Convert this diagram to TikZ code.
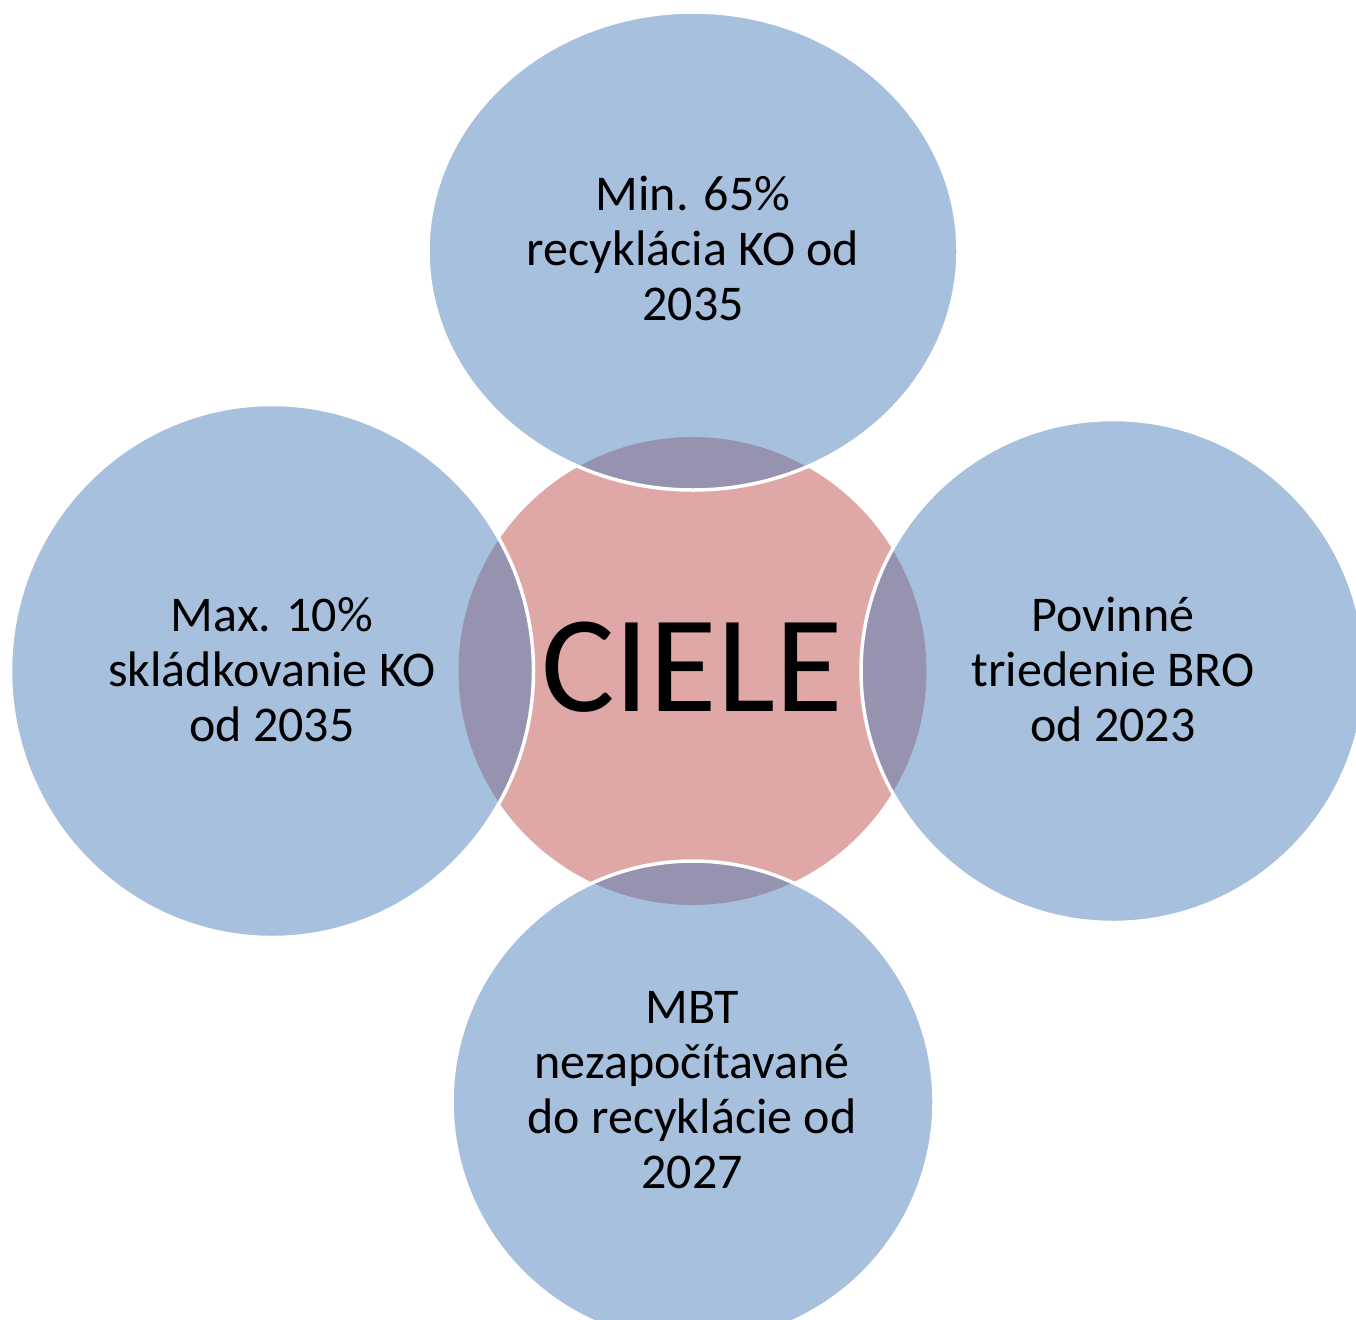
\documentclass[tikz,border=0pt]{standalone}
\usepackage{fontspec}
\setmainfont{Carlito}
\usetikzlibrary{shapes.geometric}
\definecolor{accblue}{HTML}{4F81BD}
\definecolor{accred}{HTML}{C0504D}
\tikzset{
  outer/.style={ellipse, inner sep=0pt, fill=accblue, fill opacity=0.5, draw=white, draw opacity=1, line width=3.5pt},
  inner/.style={circle, inner sep=0pt, fill=accred, fill opacity=0.5},
  lbl/.style={align=center, font=\fontsize{50}{55}\selectfont, text=black, anchor=base, inner sep=0pt},
  big/.style={font=\fontsize{138}{150}\selectfont, text=black, anchor=base, inner sep=0pt}
}
\begin{document}
\begin{tikzpicture}[x=1pt,y=-1pt]
\useasboundingbox (0,0) rectangle (1356,1319);
\node[inner, minimum size=468pt] (ciele) at (692.5,671) {};
\node[outer, minimum width=530pt, minimum height=478pt] (top) at (693,251) {};
\node[outer, minimum width=523pt, minimum height=533pt] (left) at (272,671) {};
\node[outer, minimum width=504pt, minimum height=503pt] (right) at (1113,671) {};
\node[outer, minimum width=482pt, minimum height=482pt] (bottom) at (693,1102) {};
\node[big] (tciele) at (692,711) {CIELE};
\node[lbl] (ttop) at (693,320) {Min. 65\%\\recyklácia KO od\\2035};
\node[lbl] (tleft) at (272,741) {Max. 10\%\\skládkovanie KO\\od 2035};
\node[lbl] (tright) at (1113,741) {Povinné\\triedenie BRO\\od 2023};
\node[lbl] (tbottom) at (692,1188) {MBT\\nezapočítavané\\do recyklácie od\\2027};
\end{tikzpicture}
\end{document}
